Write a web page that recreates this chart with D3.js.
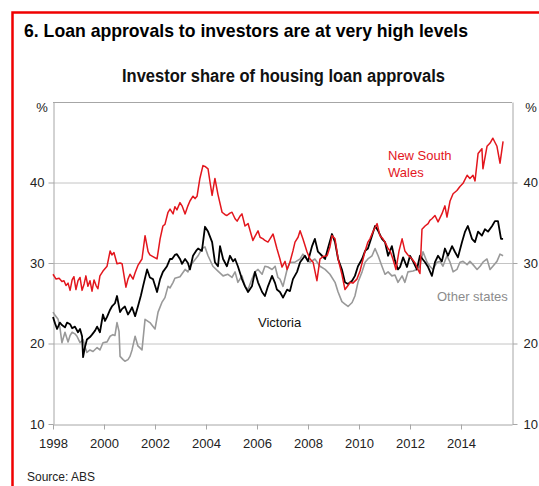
<!DOCTYPE html>
<html>
<head>
<meta charset="utf-8">
<script src="https://cdn.jsdelivr.net/npm/d3@7"></script>
<style>
  html, body { margin: 0; padding: 0; background: #fff; }
  svg { display: block; }
  text { font-family: "Liberation Sans Narrow", "Arial Narrow", "Liberation Sans", Arial, sans-serif; }
</style>
</head>
<body>
<svg id="chart" width="539" height="486"></svg>
<script>
// Investor share of housing loan approvals, per cent, [decimal year, value]
const newSouthWales = [
  [1998.00,28.6],[1998.12,28.0],[1998.24,28.1],[1998.35,27.7],[1998.43,27.8],[1998.51,27.2],[1998.59,27.5],
  [1998.67,26.6],[1998.75,27.9],[1998.82,28.3],[1998.90,26.7],[1998.98,27.8],[1999.06,28.2],[1999.14,26.6],
  [1999.22,27.4],[1999.29,28.4],[1999.37,27.1],[1999.45,27.8],[1999.53,26.5],[1999.61,27.9],[1999.69,27.2],
  [1999.76,26.8],[1999.84,28.4],[1999.96,29.0],[2000.12,29.6],[2000.24,31.5],[2000.31,31.0],[2000.39,31.3],
  [2000.51,29.9],[2000.63,30.0],[2000.71,29.9],[2000.86,27.0],[2000.94,28.0],[2001.02,28.6],[2001.14,28.0],
  [2001.22,28.8],[2001.33,29.7],[2001.49,30.5],[2001.61,33.4],[2001.73,31.4],[2001.80,31.0],[2001.92,30.8],
  [2002.08,30.5],[2002.20,33.0],[2002.31,34.6],[2002.39,34.8],[2002.51,36.3],[2002.59,36.7],[2002.71,36.1],
  [2002.78,37.0],[2002.86,36.6],[2002.98,37.5],[2003.06,37.1],[2003.18,36.1],[2003.29,37.1],[2003.37,37.7],
  [2003.49,38.3],[2003.57,38.0],[2003.65,38.3],[2003.76,40.5],[2003.88,42.1],[2003.96,42.0],[2004.08,41.7],
  [2004.16,40.0],[2004.24,38.4],[2004.35,40.5],[2004.47,38.5],[2004.63,36.3],[2004.75,36.0],[2004.82,35.9],
  [2004.94,36.2],[2005.02,36.3],[2005.14,35.5],[2005.22,35.2],[2005.33,35.8],[2005.41,36.1],[2005.53,34.6],
  [2005.65,34.9],[2005.73,34.0],[2005.84,32.8],[2005.92,33.3],[2006.04,34.0],[2006.12,33.2],[2006.24,33.0],
  [2006.31,32.8],[2006.43,32.6],[2006.51,33.0],[2006.63,33.6],[2006.78,31.8],[2006.90,30.5],[2006.98,29.5],
  [2007.10,30.2],[2007.18,29.2],[2007.29,30.1],[2007.41,31.5],[2007.49,32.6],[2007.61,33.2],[2007.69,34.0],
  [2007.80,33.0],[2007.96,31.4],[2008.08,30.5],[2008.20,30.1],[2008.35,27.8],[2008.47,30.5],[2008.59,30.8],
  [2008.75,30.9],[2008.86,32.0],[2008.94,33.4],[2009.06,33.0],[2009.18,30.5],[2009.33,28.6],[2009.45,26.7],
  [2009.57,27.2],[2009.65,27.6],[2009.76,27.5],[2009.92,28.0],[2010.04,29.0],[2010.16,30.5],[2010.24,31.5],
  [2010.35,32.6],[2010.43,33.0],[2010.55,33.9],[2010.71,34.9],[2010.82,33.4],[2010.94,33.0],[2011.02,32.6],
  [2011.14,31.8],[2011.22,31.5],[2011.33,30.5],[2011.45,29.2],[2011.57,31.5],[2011.69,33.0],[2011.80,31.5],
  [2011.92,31.0],[2012.08,30.5],[2012.20,30.0],[2012.31,29.2],[2012.39,28.7],[2012.47,34.2],[2012.59,34.6],
  [2012.71,34.9],[2012.78,35.3],[2012.86,35.5],[2012.98,35.9],[2013.10,35.1],[2013.25,36.1],[2013.37,37.1],
  [2013.45,35.7],[2013.57,37.7],[2013.69,38.6],[2013.84,39.0],[2013.96,39.5],[2014.08,39.9],[2014.24,40.9],
  [2014.35,40.5],[2014.47,40.9],[2014.55,40.2],[2014.67,43.6],[2014.82,44.2],[2014.86,41.7],[2015.02,44.5],
  [2015.14,44.9],[2015.25,45.5],[2015.33,45.0],[2015.41,44.5],[2015.53,42.4],[2015.65,45.1]
];

const victoria = [
  [1998.00,23.3],[1998.08,22.5],[1998.16,21.8],[1998.27,22.6],[1998.35,22.3],[1998.47,22.0],[1998.55,22.6],
  [1998.67,22.4],[1998.75,21.9],[1998.86,22.1],[1998.98,21.4],[1999.06,21.8],[1999.14,20.9],[1999.18,18.3],
  [1999.25,19.5],[1999.33,20.5],[1999.45,20.8],[1999.53,21.1],[1999.65,21.6],[1999.73,22.1],[1999.84,21.4],
  [1999.96,23.6],[2000.04,22.8],[2000.12,23.3],[2000.24,24.2],[2000.31,24.6],[2000.43,25.0],[2000.51,25.9],
  [2000.63,23.9],[2000.71,24.3],[2000.82,24.6],[2000.94,23.6],[2001.02,24.0],[2001.10,24.5],[2001.22,23.4],
  [2001.33,24.6],[2001.45,26.0],[2001.53,27.1],[2001.69,29.2],[2001.80,28.2],[2001.92,28.0],[2002.08,26.4],
  [2002.20,28.0],[2002.31,28.9],[2002.47,29.6],[2002.59,30.5],[2002.67,30.5],[2002.78,31.0],[2002.86,31.1],
  [2002.98,30.5],[2003.06,29.9],[2003.18,30.5],[2003.29,30.0],[2003.37,29.2],[2003.49,30.9],[2003.61,31.5],
  [2003.69,31.8],[2003.84,31.5],[2003.96,34.5],[2004.08,33.9],[2004.24,32.6],[2004.35,30.1],[2004.47,29.6],
  [2004.55,32.1],[2004.67,30.5],[2004.82,29.6],[2004.94,30.9],[2005.06,30.2],[2005.14,30.5],[2005.25,29.6],
  [2005.41,28.0],[2005.53,27.1],[2005.65,26.4],[2005.80,27.1],[2005.92,28.9],[2006.04,27.6],[2006.20,26.4],
  [2006.31,25.9],[2006.43,27.1],[2006.59,28.4],[2006.71,27.5],[2006.78,26.7],[2006.90,26.4],[2007.02,25.7],
  [2007.18,26.7],[2007.29,26.5],[2007.41,28.0],[2007.57,28.9],[2007.69,30.1],[2007.88,30.9],[2008.00,30.2],
  [2008.16,32.1],[2008.27,33.0],[2008.39,31.4],[2008.55,30.9],[2008.67,30.5],[2008.78,31.8],[2008.94,33.6],
  [2009.06,32.6],[2009.18,30.5],[2009.33,29.2],[2009.45,27.6],[2009.57,27.4],[2009.73,27.8],[2009.84,28.4],
  [2009.96,29.6],[2010.12,30.5],[2010.24,31.5],[2010.35,31.8],[2010.51,33.4],[2010.63,34.6],[2010.75,34.0],
  [2010.90,33.0],[2011.02,32.6],[2011.14,30.9],[2011.29,32.1],[2011.41,30.3],[2011.53,29.2],[2011.61,29.5],
  [2011.73,30.7],[2011.88,29.5],[2012.00,30.9],[2012.12,30.2],[2012.27,29.2],[2012.39,30.9],[2012.59,30.1],
  [2012.71,29.5],[2012.86,28.4],[2012.98,30.1],[2013.10,30.9],[2013.25,30.2],[2013.37,31.8],[2013.49,30.9],
  [2013.65,32.1],[2013.76,31.4],[2013.88,30.7],[2014.04,32.6],[2014.16,33.9],[2014.27,34.6],[2014.43,33.0],
  [2014.55,32.6],[2014.67,33.9],[2014.82,33.4],[2014.94,34.2],[2015.06,33.9],[2015.22,34.6],[2015.33,35.2],
  [2015.45,35.2],[2015.57,33.0],[2015.65,33.0]
];

const otherStates = [
  [1998.00,23.9],[1998.08,23.5],[1998.20,23.0],[1998.27,22.0],[1998.35,20.1],[1998.47,21.4],[1998.59,20.2],
  [1998.67,21.0],[1998.75,21.4],[1998.86,21.2],[1998.94,20.9],[1999.06,20.1],[1999.18,20.5],[1999.25,19.6],
  [1999.33,18.9],[1999.45,19.2],[1999.57,19.0],[1999.73,19.5],[1999.84,19.2],[1999.96,20.1],[2000.12,20.2],
  [2000.24,20.9],[2000.35,21.1],[2000.43,21.0],[2000.51,22.6],[2000.59,21.5],[2000.63,18.4],[2000.75,18.0],
  [2000.82,17.8],[2000.94,18.0],[2001.02,18.4],[2001.10,19.2],[2001.22,20.9],[2001.33,19.7],[2001.49,19.2],
  [2001.61,23.0],[2001.80,22.6],[2002.00,21.8],[2002.12,23.9],[2002.27,25.1],[2002.39,25.7],[2002.51,27.1],
  [2002.59,26.9],[2002.71,27.6],[2002.78,28.1],[2002.98,28.3],[2003.18,29.2],[2003.29,28.9],[2003.37,29.5],
  [2003.49,30.1],[2003.69,30.9],[2003.84,31.8],[2003.96,32.0],[2004.08,30.9],[2004.27,29.6],[2004.47,29.0],
  [2004.67,28.4],[2004.86,28.6],[2005.02,28.2],[2005.14,28.9],[2005.25,27.6],[2005.41,28.4],[2005.53,27.1],
  [2005.65,26.7],[2005.80,28.0],[2005.92,28.9],[2006.04,29.2],[2006.20,28.6],[2006.31,29.6],[2006.43,29.5],
  [2006.59,29.2],[2006.71,29.6],[2006.82,28.2],[2006.90,28.0],[2007.02,27.1],[2007.18,29.2],[2007.29,30.1],
  [2007.49,30.1],[2007.69,30.5],[2007.80,31.1],[2007.96,30.5],[2008.08,30.1],[2008.27,30.5],[2008.47,29.6],
  [2008.67,29.2],[2008.86,28.6],[2009.06,27.6],[2009.18,26.4],[2009.33,25.2],[2009.45,24.9],[2009.57,24.6],
  [2009.73,25.1],[2009.84,25.9],[2009.96,27.6],[2010.12,28.9],[2010.24,30.1],[2010.35,30.5],[2010.51,30.9],
  [2010.63,31.8],[2010.75,30.9],[2010.90,29.6],[2011.02,28.6],[2011.14,28.9],[2011.29,28.4],[2011.41,28.5],
  [2011.53,27.6],[2011.69,28.4],[2011.80,27.6],[2011.92,28.9],[2012.12,29.0],[2012.27,29.2],[2012.39,29.6],
  [2012.51,31.4],[2012.67,30.1],[2012.78,29.6],[2012.90,29.2],[2013.06,30.1],[2013.18,30.2],[2013.29,29.6],
  [2013.45,30.9],[2013.57,30.1],[2013.69,28.9],[2013.84,29.2],[2013.96,30.1],[2014.08,30.2],[2014.24,29.8],
  [2014.35,30.2],[2014.47,29.8],[2014.63,29.2],[2014.75,29.6],[2014.86,30.1],[2015.02,30.5],[2015.14,29.2],
  [2015.25,29.6],[2015.41,30.2],[2015.53,31.1],[2015.65,30.9]
];

const yearTicks = [1998, 2000, 2002, 2004, 2006, 2008, 2010, 2012, 2014];
const valueTicks = [10, 20, 30, 40];

const svg = d3.select("#chart");

// Outer red frame (runs off the right and bottom edges)
svg.append("rect")
  .attr("x", 12.5).attr("y", 12.5)
  .attr("width", 560).attr("height", 520)
  .attr("fill", "none").attr("stroke", "#f00000").attr("stroke-width", 2.5);

svg.append("text")
  .attr("x", 24).attr("y", 37)
  .attr("font-size", 19).attr("font-weight", "bold").attr("fill", "#000")
  .attr("textLength", 444).attr("lengthAdjust", "spacingAndGlyphs")
  .text("6. Loan approvals to investors are at very high levels");

svg.append("text")
  .attr("x", 122).attr("y", 82)
  .attr("font-size", 18).attr("font-weight", "bold").attr("fill", "#111")
  .attr("textLength", 323).attr("lengthAdjust", "spacingAndGlyphs")
  .text("Investor share of housing loan approvals");

const plotLeft = 53, plotRight = 512, plotTop = 102, plotBottom = 424;
const x = d3.scaleLinear().domain([1998, 2016]).range([plotLeft, plotRight]);
const y = d3.scaleLinear().domain([10, 50]).range([plotBottom, plotTop]);

const axisColor = "#a6a6a6";

// Horizontal gridlines
svg.append("g").selectAll("line")
  .data(valueTicks.filter(v => v > 10))
  .join("line")
  .attr("x1", plotLeft).attr("x2", plotRight)
  .attr("y1", d => y(d) + 0.5).attr("y2", d => y(d) + 0.5)
  .attr("stroke", "#c4c4c4").attr("stroke-width", 1);

// Top edge of the plot
svg.append("line")
  .attr("x1", plotLeft).attr("x2", plotRight)
  .attr("y1", plotTop + 0.5).attr("y2", plotTop + 0.5)
  .attr("stroke", axisColor);

const styleAxis = g => {
  g.select(".domain").attr("stroke", axisColor);
  g.selectAll(".tick line").attr("stroke", axisColor);
  g.selectAll("text")
    .attr("font-size", 13)
    .attr("fill", "#222")
    .style("font-family", "'Liberation Sans Narrow','Arial Narrow','Liberation Sans',Arial,sans-serif");
};

svg.append("g")
  .attr("transform", `translate(0,${plotBottom + 0.5})`)
  .call(d3.axisBottom(x).tickValues(yearTicks).tickFormat(d3.format("d")).tickSize(5).tickSizeOuter(0).tickPadding(9))
  .call(styleAxis);

svg.append("g")
  .attr("transform", `translate(${plotLeft + 0.5},0)`)
  .call(d3.axisLeft(y).tickValues(valueTicks).tickSize(5).tickSizeOuter(0).tickPadding(4))
  .call(styleAxis);

svg.append("g")
  .attr("transform", `translate(${plotRight + 0.5},0)`)
  .call(d3.axisRight(y).tickValues(valueTicks).tickSize(5).tickSizeOuter(0).tickPadding(6))
  .call(styleAxis);

svg.append("text").attr("x", 42).attr("y", 112).attr("text-anchor", "middle")
  .attr("font-size", 13).attr("fill", "#222").text("%");
svg.append("text").attr("x", 531).attr("y", 112).attr("text-anchor", "middle")
  .attr("font-size", 13).attr("fill", "#222").text("%");

const line = d3.line().x(d => x(d[0])).y(d => y(d[1]));

const series = [
  { data: otherStates, color: "#999999", width: 1.6 },
  { data: victoria, color: "#000000", width: 1.8 },
  { data: newSouthWales, color: "#e3161d", width: 1.5 }
];

svg.append("g").selectAll("path")
  .data(series)
  .join("path")
  .attr("d", d => line(d.data))
  .attr("fill", "none")
  .attr("stroke", d => d.color)
  .attr("stroke-width", d => d.width)
  .attr("stroke-linejoin", "round");

// Series labels
const label = (tx, ty, txt, color) => svg.append("text")
  .attr("x", tx).attr("y", ty).attr("font-size", 13).attr("fill", color).text(txt);
label(388, 160, "New South", "#e3161d");
label(388, 177, "Wales", "#e3161d");
label(258, 327, "Victoria", "#111");
label(437, 301, "Other states", "#8c8c8c");

svg.append("text").attr("x", 27).attr("y", 481)
  .attr("font-size", 12).attr("fill", "#222").text("Source: ABS");
</script>
</body>
</html>
